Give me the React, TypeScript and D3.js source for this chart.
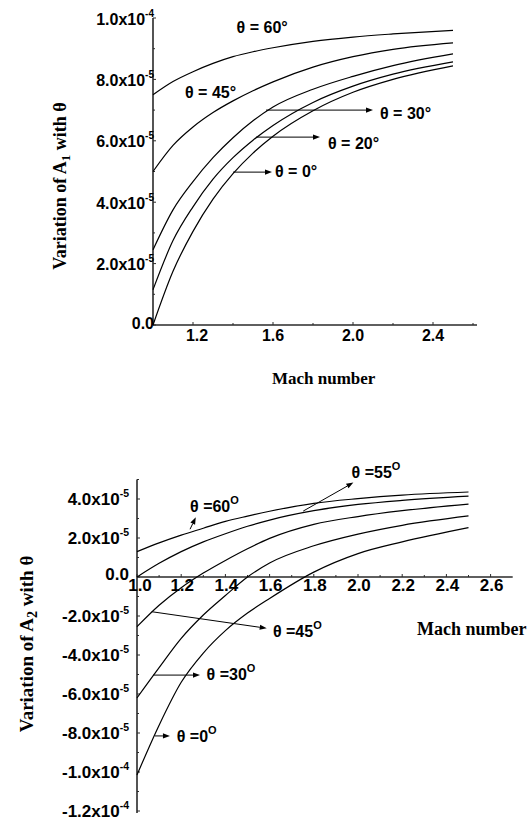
import React from "react";
import * as d3 from "d3";

// ---------- DATA ----------
// Mach numbers sampled along every curve
const machTop = [1.0, 1.1, 1.2, 1.3, 1.4, 1.5, 1.6, 1.8, 2.0, 2.2, 2.5];
const machBottom = [1.0, 1.1, 1.2, 1.3, 1.4, 1.5, 1.6, 1.8, 2.0, 2.2, 2.5];

// Variation of A1 (units of 1e-5)
const a1Theta60 = [7.5, 7.93, 8.25, 8.52, 8.74, 8.9, 9.03, 9.24, 9.38, 9.48, 9.6];
const a1Theta45 = [5.0, 5.85, 6.45, 6.92, 7.3, 7.63, 7.92, 8.4, 8.74, 8.98, 9.19];
const a1Theta30 = [2.45, 3.75, 4.67, 5.45, 6.1, 6.65, 7.1, 7.68, 8.1, 8.45, 8.83];
const a1Theta20 = [1.15, 2.75, 3.85, 4.75, 5.45, 6.02, 6.5, 7.25, 7.78, 8.17, 8.57];
const a1Theta0 = [0, 1.75, 3.05, 4.1, 4.93, 5.6, 6.15, 6.98, 7.58, 8.0, 8.44];

// Variation of A2 (units of 1e-5)
const a2Theta60 = [1.3, 1.75, 2.15, 2.5, 2.85, 3.12, 3.37, 3.78, 4.02, 4.2, 4.36];
const a2Theta55 = [0, 0.7, 1.3, 1.8, 2.22, 2.6, 2.92, 3.4, 3.72, 3.93, 4.15];
const a2Theta45 = [-2.55, -1.45, -0.55, 0.2, 0.85, 1.45, 1.98, 2.7, 3.1, 3.4, 3.74];
const a2Theta30 = [-6.2, -4.65, -3.15, -1.95, -0.95, 0.0, 0.72, 1.6, 2.2, 2.65, 3.13];
const a2Theta0 = [-10.15, -7.6, -5.4, -3.9, -2.75, -1.85, -1.1, 0.25, 1.2, 1.8, 2.53];

// Tick values
const topYTicks = [0, 2, 4, 6, 8, 10];
const topYMinor = [1, 3, 5, 7, 9];
const topXTicks = [1.2, 1.6, 2.0, 2.4];
const topXMinor = [1.4, 1.8, 2.2, 2.6];
const botYTicks = [-12, -10, -8, -6, -4, -2, 0, 2, 4];
const botYMinor = [-11, -9, -7, -5, -3, -1, 1, 3, 5];
const botXTicks = [1.0, 1.2, 1.4, 1.6, 1.8, 2.0, 2.2, 2.4, 2.6];
const botXMinor = [1.1, 1.3, 1.5, 1.7, 1.9, 2.1, 2.3, 2.5];

// Curve annotations (data coordinates)
type Note = { label: string; m: number; v: number; arrow?: [number, number, number, number] };
const topNotes: Note[] = [
  { label: "60", m: 1.418, v: 9.51 },
  { label: "45", m: 1.16, v: 7.39 },
  { label: "30", m: 2.135, v: 6.71, arrow: [1.565, 7.0, 2.1, 7.0] },
  { label: "20", m: 1.875, v: 5.73, arrow: [1.515, 6.12, 1.835, 6.12] },
  { label: "0", m: 1.61, v: 4.82, arrow: [1.4, 4.98, 1.595, 4.98] },
];
const bottomNotes: Note[] = [
  { label: "60", m: 1.24, v: 3.35, arrow: [1.24, 2.45, 1.266, 3.06] },
  { label: "55", m: 1.971, v: 5.08, arrow: [1.752, 3.38, 1.979, 4.84] },
  { label: "45", m: 1.615, v: -3.06, arrow: [1.0665, -1.78, 1.587, -2.63] },
  { label: "30", m: 1.315, v: -5.28, arrow: [1.074, -5.03, 1.285, -5.03] },
  { label: "0", m: 1.18, v: -8.45, arrow: [1.081, -8.15, 1.149, -8.15] },
];

// ---------- LAYOUT ----------
const W = 528;
const H = 823;
const SANS = "'Liberation Sans', Arial, Helvetica, sans-serif";
const SERIF = "'Liberation Serif', 'Times New Roman', serif";

const xTop = d3.scaleLinear().domain([1, 2.6]).range([153, 473]);
const yTop = d3.scaleLinear().domain([0, 10]).range([325, 18]);
const xBot = d3.scaleLinear().domain([1, 2.6]).range([137, 490.6]);
const yBot = d3.scaleLinear().domain([-12, 4]).range([811, 499]);

function expLabel(v: number): [string, string] {
  if (v === 0) return ["0.0", ""];
  if (Math.abs(v) >= 10) return [(v / 10).toFixed(1) + "x10", "-4"];
  return [v.toFixed(1) + "x10", "-5"];
}

function Arrow({ x1, y1, x2, y2 }: { x1: number; y1: number; x2: number; y2: number }) {
  const ang = Math.atan2(y2 - y1, x2 - x1);
  const L = 7;
  const Wd = 2.6;
  const bx = x2 - L * Math.cos(ang);
  const by = y2 - L * Math.sin(ang);
  const px = -Math.sin(ang) * Wd;
  const py = Math.cos(ang) * Wd;
  return (
    <g>
      <line x1={x1} y1={y1} x2={bx} y2={by} stroke="#000" strokeWidth={1} />
      <path d={`M${x2},${y2} L${bx + px},${by + py} L${bx - px},${by - py} Z`} fill="#000" />
    </g>
  );
}

export default function App() {
  const lineTop = (vals: number[]) =>
    d3
      .line<number>()
      .x((_, i) => xTop(machTop[i]))
      .y((d) => yTop(d))
      .curve(d3.curveMonotoneX)(vals) as string;
  const lineBot = (vals: number[]) =>
    d3
      .line<number>()
      .x((_, i) => xBot(machBottom[i]))
      .y((d) => yBot(d))
      .curve(d3.curveMonotoneX)(vals) as string;

  const topSeries = [a1Theta60, a1Theta45, a1Theta30, a1Theta20, a1Theta0];
  const botSeries = [a2Theta60, a2Theta55, a2Theta45, a2Theta30, a2Theta0];

  const axisColor = "#2a2a2a";

  return (
    <svg
      width={W}
      height={H}
      viewBox={`0 0 ${W} ${H}`}
      style={{ position: "absolute", left: 0, top: 0, background: "#fff" }}
    >
      <rect width={W} height={H} fill="#fff" />

      {/* ===== TOP CHART ===== */}
      <g>
        <line x1={xTop(1)} y1={yTop(10)} x2={xTop(1)} y2={yTop(0)} stroke={axisColor} strokeWidth={1.6} />
        <line x1={xTop(1)} y1={yTop(0)} x2={xTop(2.62)} y2={yTop(0)} stroke={axisColor} strokeWidth={1.6} />
        {topYTicks.map((t) => (
          <line key={"tyt" + t} x1={xTop(1)} x2={xTop(1) + 3} y1={yTop(t)} y2={yTop(t)} stroke={axisColor} strokeWidth={1} />
        ))}
        {topYMinor.map((t) => (
          <line key={"tym" + t} x1={xTop(1)} x2={xTop(1) + 2} y1={yTop(t)} y2={yTop(t)} stroke={axisColor} strokeWidth={1} />
        ))}
        {topXTicks.map((t) => (
          <line key={"txt" + t} x1={xTop(t)} x2={xTop(t)} y1={yTop(0)} y2={yTop(0) - 3} stroke={axisColor} strokeWidth={1} />
        ))}
        {topXMinor.map((t) => (
          <line key={"txm" + t} x1={xTop(t)} x2={xTop(t)} y1={yTop(0)} y2={yTop(0) - 2} stroke={axisColor} strokeWidth={1} />
        ))}
        {topYTicks.map((t) => {
          const [main, sup] = expLabel(t);
          return (
            <text
              key={"tyl" + t}
              x={154}
              y={yTop(t) + (t === 0 ? 4 : 6.5)}
              textAnchor="end"
              fontFamily={SANS}
              fontWeight="bold"
              fontSize={16}
              fill="#000"
            >
              {main}
              {sup && (
                <tspan fontSize={10} dy={-8}>
                  {sup}
                </tspan>
              )}
            </text>
          );
        })}
        {topXTicks.map((t) => (
          <text
            key={"txl" + t}
            x={xTop(t) + (t === 1.2 ? 4 : 0)}
            y={341}
            textAnchor="middle"
            fontFamily={SANS}
            fontWeight="bold"
            fontSize={16}
          >
            {t.toFixed(1)}
          </text>
        ))}

        {topSeries.map((s, i) => (
          <path key={"tc" + i} d={lineTop(s)} fill="none" stroke="#000" strokeWidth={1.2} />
        ))}

        {topNotes.map((n) => (
          <g key={"tn" + n.label}>
            {n.arrow && (
              <Arrow x1={xTop(n.arrow[0])} y1={yTop(n.arrow[1])} x2={xTop(n.arrow[2])} y2={yTop(n.arrow[3])} />
            )}
            <text x={xTop(n.m)} y={yTop(n.v)} fontFamily={SANS} fontWeight="bold" fontSize={16}>
              {"θ = " + n.label + "°"}
            </text>
          </g>
        ))}

        <text
          transform="translate(66,186) rotate(-90)"
          textAnchor="middle"
          fontFamily={SERIF}
          fontWeight="bold"
          fontSize={18}
        >
          Variation of A
          <tspan fontSize={13} dy={4}>
            1
          </tspan>
          <tspan dy={-4}> with θ</tspan>
        </text>
        <text x={272} y={384} fontFamily={SERIF} fontWeight="bold" fontSize={17}>
          Mach number
        </text>
      </g>

      {/* ===== BOTTOM CHART ===== */}
      <g>
        <line x1={xBot(1)} y1={yBot(5)} x2={xBot(1)} y2={yBot(-12.1)} stroke={axisColor} strokeWidth={1.6} />
        <line x1={xBot(1)} y1={yBot(0)} x2={xBot(2.7)} y2={yBot(0)} stroke={axisColor} strokeWidth={1.6} />
        {botYTicks.map((t) => (
          <line key={"byt" + t} x1={xBot(1)} x2={xBot(1) + 3} y1={yBot(t)} y2={yBot(t)} stroke={axisColor} strokeWidth={1} />
        ))}
        {botYMinor.map((t) => (
          <line key={"bym" + t} x1={xBot(1)} x2={xBot(1) + 2} y1={yBot(t)} y2={yBot(t)} stroke={axisColor} strokeWidth={1} />
        ))}
        {botXTicks.map((t) => (
          <line key={"bxt" + t} x1={xBot(t)} x2={xBot(t)} y1={yBot(0)} y2={yBot(0) - 3} stroke={axisColor} strokeWidth={1} />
        ))}
        {botXMinor.map((t) => (
          <line key={"bxm" + t} x1={xBot(t)} x2={xBot(t)} y1={yBot(0)} y2={yBot(0) - 2} stroke={axisColor} strokeWidth={1} />
        ))}
        {botYTicks.map((t) => {
          const [main, sup] = expLabel(t);
          return (
            <text
              key={"byl" + t}
              x={129}
              y={yBot(t) + (t === 0 ? 3 : 6)}
              textAnchor="end"
              fontFamily={SANS}
              fontWeight="bold"
              fontSize={17}
            >
              {main}
              {sup && (
                <tspan fontSize={10.5} dy={-8}>
                  {sup}
                </tspan>
              )}
            </text>
          );
        })}
        {botXTicks.map((t) => (
          <text
            key={"bxl" + t}
            x={xBot(t) + (t === 1 ? 3 : 1)}
            y={591}
            textAnchor="middle"
            fontFamily={SANS}
            fontWeight="bold"
            fontSize={17}
          >
            {t.toFixed(1)}
          </text>
        ))}

        {botSeries.map((s, i) => (
          <path key={"bc" + i} d={lineBot(s)} fill="none" stroke="#000" strokeWidth={1.2} />
        ))}

        {bottomNotes.map((n) => (
          <g key={"bn" + n.label}>
            {n.arrow && (
              <Arrow x1={xBot(n.arrow[0])} y1={yBot(n.arrow[1])} x2={xBot(n.arrow[2])} y2={yBot(n.arrow[3])} />
            )}
            <text x={xBot(n.m)} y={yBot(n.v)} fontFamily={SANS} fontWeight="bold" fontSize={16}>
              {"θ =" + n.label}
              <tspan fontSize={11} dy={-8}>
                O
              </tspan>
            </text>
          </g>
        ))}

        <text
          transform="translate(33,644) rotate(-90)"
          textAnchor="middle"
          fontFamily={SERIF}
          fontWeight="bold"
          fontSize={19}
        >
          Variation of A
          <tspan fontSize={14} dy={4}>
            2
          </tspan>
          <tspan dy={-4}> with θ</tspan>
        </text>
        <text x={417} y={635} fontFamily={SERIF} fontWeight="bold" fontSize={18}>
          Mach number
        </text>
      </g>
    </svg>
  );
}
